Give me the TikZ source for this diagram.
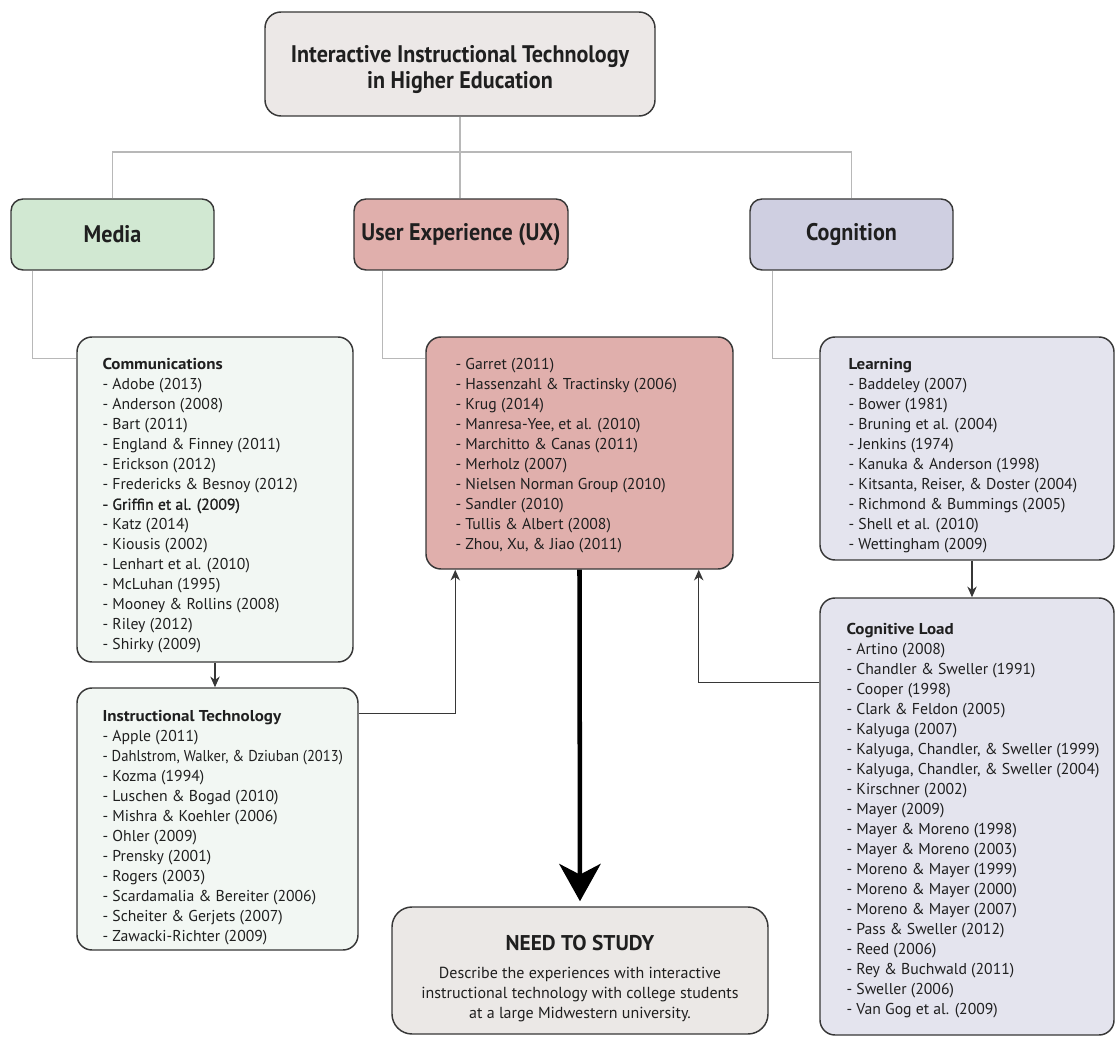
\documentclass[tikz,border=0pt]{standalone}
\usepackage{fontspec}
\setmainfont{PT Sans}
\newfontfamily\condfont[FakeStretch=0.92]{PT Sans}
\newfontfamily\widefont[FakeStretch=1.08]{PT Sans}
\newfontfamily\heavyfont[FakeBold=1.2]{PT Sans}
\newfontfamily\tightfont[FakeStretch=0.93]{PT Sans}
\usetikzlibrary{arrows.meta}
\newdimen\px
\px=0.75pt
\newcommand{\listhead}[1]{{\widefont\bfseries #1}}
\definecolor{rim}{RGB}{55,55,55}
\definecolor{titlefill}{RGB}{236,232,231}
\definecolor{mediafill}{RGB}{209,232,210}
\definecolor{uxfill}{RGB}{224,175,172}
\definecolor{cogfill}{RGB}{207,207,225}
\definecolor{mintfill}{RGB}{242,247,243}
\definecolor{lilacfill}{RGB}{228,228,238}
\definecolor{needfill}{RGB}{235,232,230}

\begin{document}
\begin{tikzpicture}[x=0.75pt,y=-0.75pt,
    every node/.style={font=\fontsize{11.8}{15}\selectfont, text=black!88},
    box/.style={draw=rim, line width=1.1pt, inner sep=0pt, rounded corners=15\px},
    headbox/.style={box, rounded corners=12\px, align=center,
        font=\condfont\bfseries\fontsize{18}{19.5}\selectfont},
    reftext/.style={anchor=north west, inner sep=0pt, align=left},
    graylink/.style={draw=black!28, line width=0.8pt},
    darklink/.style={draw=rim, line width=1pt, -{Stealth[length=8pt,width=7pt,inset=2.5pt]}},
    bigarrow/.style={draw=black, line width=3.4pt, shorten >=3.75pt,
        -{Stealth[length=28pt,width=31pt,inset=8pt]}}]
\useasboundingbox (0,0) rectangle (1117,1037);

% top level
\node[headbox, fill=titlefill, minimum width=390\px, minimum height=104\px, rounded corners=16\px] (title) at (460,64)
    {\rule{0pt}{20.5pt}Interactive Instructional Technology\\in Higher Education};
\node[headbox, fill=mediafill, minimum width=203\px, minimum height=71\px] (media) at (112.5,234.5) {Media};
\node[headbox, fill=uxfill, minimum width=214\px, minimum height=71\px] (ux) at (461,234.5) {User Experience (UX)};
\node[headbox, fill=cogfill, minimum width=203\px, minimum height=71\px] (cog) at (851.5,234.5) {Cognition};

% reference boxes
\node[box, fill=mintfill, minimum width=276\px, minimum height=325\px] (comm) at (215,499.5) {};
\node[reftext] (commrefs) at ([shift={(26,22)}]comm.north west) {\listhead{Communications}\\
    - Adobe (2013)\\
    - Anderson (2008)\\
    - Bart (2011)\\
    - England \& Finney (2011)\\
    - Erickson (2012)\\
    - Fredericks \& Besnoy (2012)\\
    {\heavyfont - Griffin et al. (2009)}\\
    - Katz (2014)\\
    - Kiousis (2002)\\
    - Lenhart et al. (2010)\\
    - McLuhan (1995)\\
    - Mooney \& Rollins (2008)\\
    - Riley (2012)\\
    - Shirky (2009)};

\node[box, fill=uxfill, minimum width=307\px, minimum height=232\px] (uxlist) at (579.5,453) {};
\node[reftext] (uxrefs) at ([shift={(30,22)}]uxlist.north west) {- Garret (2011)\\
    - Hassenzahl \& Tractinsky (2006)\\
    - Krug (2014)\\
    - Manresa-Yee, et al. (2010)\\
    - Marchitto \& Canas (2011)\\
    - Merholz (2007)\\
    - Nielsen Norman Group (2010)\\
    - Sandler (2010)\\
    - Tullis \& Albert (2008)\\
    - Zhou, Xu, \& Jiao (2011)};

\node[box, fill=lilacfill, minimum width=294\px, minimum height=223\px] (learn) at (967,448.5) {};
\node[reftext] (learnrefs) at ([shift={(29,22)}]learn.north west) {\listhead{Learning}\\
    - Baddeley (2007)\\
    - Bower (1981)\\
    - Bruning et al. (2004)\\
    - Jenkins (1974)\\
    - Kanuka \& Anderson (1998)\\
    - Kitsanta, Reiser, \& Doster (2004)\\
    - Richmond \& Bummings (2005)\\
    - Shell et al. (2010)\\
    - Wettingham (2009)};

\node[box, fill=mintfill, minimum width=281\px, minimum height=262\px] (instr) at (217.5,819) {};
\node[reftext] (instrrefs) at ([shift={(26,23)}]instr.north west) {\listhead{Instructional Technology}\\
    - Apple (2011)\\
    {\tightfont - Dahlstrom, Walker, \& Dziuban (2013)}\\
    - Kozma (1994)\\
    - Luschen \& Bogad (2010)\\
    - Mishra \& Koehler (2006)\\
    - Ohler (2009)\\
    - Prensky (2001)\\
    - Rogers (2003)\\
    - Scardamalia \& Bereiter (2006)\\
    - Scheiter \& Gerjets (2007)\\
    - Zawacki-Richter (2009)};

\node[box, fill=lilacfill, minimum width=294\px, minimum height=437\px] (cogload) at (967,816.5) {};
\node[reftext] (cogrefs) at ([shift={(27,26)}]cogload.north west) {\listhead{Cognitive Load}\\
    - Artino (2008)\\
    - Chandler \& Sweller (1991)\\
    - Cooper (1998)\\
    - Clark \& Feldon (2005)\\
    - Kalyuga (2007)\\
    - Kalyuga, Chandler, \& Sweller (1999)\\
    - Kalyuga, Chandler, \& Sweller (2004)\\
    - Kirschner (2002)\\
    - Mayer (2009)\\
    - Mayer \& Moreno (1998)\\
    - Mayer \& Moreno (2003)\\
    - Moreno \& Mayer (1999)\\
    - Moreno \& Mayer (2000)\\
    - Moreno \& Mayer (2007)\\
    - Pass \& Sweller (2012)\\
    - Reed (2006)\\
    - Rey \& Buchwald (2011)\\
    - Sweller (2006)\\
    - Van Gog et al. (2009)};

\node[box, fill=needfill, minimum width=376\px, minimum height=127\px, rounded corners=20\px, align=center] (need) at (580,970.5)
    {{\bfseries\fontsize{16}{16}\selectfont\rule{0pt}{23pt}NEED TO STUDY}\\[6pt]
    {\fontsize{12}{15}\selectfont Describe the experiences with interactive}\\
    {\fontsize{12}{15}\selectfont instructional technology with college students}\\
    {\fontsize{12}{15}\selectfont at a large Midwestern university.}};

% connectors
\coordinate (bus) at (461,152);
\draw[graylink] (title.south) -- (title.south |- ux.north);
\draw[graylink] (media.north) |- (bus) -| (cog.north);
\draw[graylink] ([shift={(22,0)}]media.south west) |- ([shift={(0,22)}]comm.north west);
\draw[graylink] ([shift={(29,0)}]ux.south west) |- ([shift={(0,22)}]uxlist.north west);
\draw[graylink] ([shift={(23,0)}]cog.south west) |- ([shift={(0,22)}]learn.north west);

\draw[darklink] (comm.south) -- (comm.south |- instr.north);
\draw[darklink] ([shift={(5,0)}]learn.south) -- ([shift={(5,0)}]learn.south |- cogload.north);
\draw[darklink] ([shift={(0,26)}]instr.north east) -| ([shift={(30,0)}]uxlist.south west);
\draw[darklink] ([shift={(0,85)}]cogload.north west) -| ([shift={(-35,0)}]uxlist.south east);
\draw[bigarrow] (uxlist.south) -- (need.north);
\end{tikzpicture}
\end{document}
